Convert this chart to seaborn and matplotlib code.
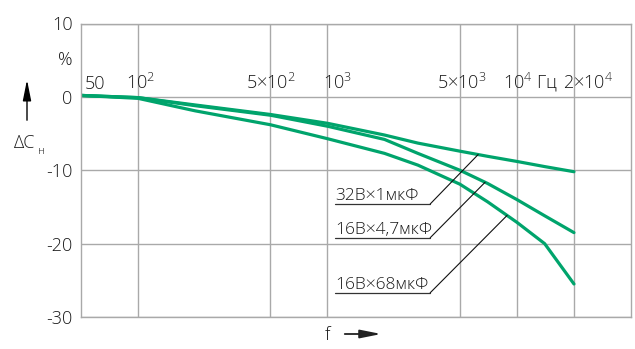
import numpy as np
import pandas as pd
import matplotlib
matplotlib.use("Agg")
import matplotlib.pyplot as plt
import seaborn as sns

# Frequency points (Hz) and capacitance change (%) for each capacitor type
freq_hz = [50, 100, 200, 500, 1000, 2000, 3000, 5000, 7000, 10000, 14000, 20000]
dc_32v_1uf = [0.2, -0.1, -1.1, -2.4, -3.6, -5.2, -6.3, -7.4, -8.1, -8.8, -9.5, -10.2]
dc_16v_4u7 = [0.2, -0.1, -1.2, -2.5, -4.0, -5.8, -7.7, -10.0, -11.8, -14.0, -16.2, -18.5]
dc_16v_68uf = [0.2, -0.2, -1.9, -3.8, -5.7, -7.7, -9.3, -11.9, -14.3, -17.1, -20.0, -25.5]

series_names = ["32В×1мкФ", "16В×4,7мкФ", "16В×68мкФ"]
series_values = [dc_32v_1uf, dc_16v_4u7, dc_16v_68uf]
# frequency at which each callout line touches its curve
callout_freq = [6240, 6790, 8870]

grid_freq = [100, 500, 1000, 5000, 10000, 20000]
freq_labels = ["50", "10$^2$", "5×10$^2$", "10$^3$", "5×10$^3$", "10$^4$ Гц", "2×10$^4$"]
freq_label_pos = [50, 100, 500, 1000, 5000, 10000, 20000]
y_ticks = [10, 0, -10, -20, -30]
y_labels = ["10", "0", "-10", "-20", "-30"]

sns.set_style("white")
plt.rcParams["font.family"] = ["Open Sans", "DejaVu Sans"]
plt.rcParams["font.weight"] = "light"
plt.rcParams["mathtext.fontset"] = "custom"
plt.rcParams["mathtext.rm"] = "Open Sans:light"
plt.rcParams["mathtext.it"] = "Open Sans:light"
plt.rcParams["mathtext.default"] = "rm"

GREEN = "#00a46c"
GRID = "#a9a9a9"
TXT = "#1a1a1a"

df = pd.DataFrame({
    "f": np.tile(freq_hz, len(series_names)),
    "dc": np.concatenate(series_values),
    "series": np.repeat(series_names, len(freq_hz)),
})

fig = plt.figure(figsize=(6.35, 3.49), dpi=100)
ax = fig.add_axes([81 / 635, 1 - 317 / 349, 550 / 635, 293.5 / 349])

sns.lineplot(data=df, x="f", y="dc", hue="series", palette=[GREEN] * 3,
             estimator=None, sort=False, legend=False, lw=2.3, ax=ax)

ax.set_xscale("log")
ax.set_xlim(50, 40000)
ax.set_ylim(-30, 10)
ax.set_xticks(grid_freq)
ax.xaxis.set_minor_locator(matplotlib.ticker.NullLocator())
ax.set_xticklabels([])
ax.set_yticks(y_ticks)
ax.set_yticklabels(y_labels, fontsize=13, color=TXT)
ax.tick_params(length=0, pad=6)
ax.grid(True, color=GRID, lw=1.0)
ax.set_xlabel("")
ax.set_ylabel("")
for sp in ax.spines.values():
    sp.set_color(GRID)
    sp.set_linewidth(1.0)

# frequency labels sitting above the zero line
label_style = [("left", 3), ("center", 2), ("center", 0), ("left", -3),
               ("center", 1), ("left", -10), ("center", 10)]
for txt, f, (ha, dx) in zip(freq_labels, freq_label_pos, label_style):
    ax.annotate(txt, xy=(f, 0), xytext=(dx, 6), textcoords="offset points",
                ha=ha, va="baseline", fontsize=13, color=TXT)

ax.annotate("%", xy=(0, 5), xycoords=("axes fraction", "data"),
            xytext=(-6, 0), textcoords="offset points",
            ha="right", va="center", fontsize=13, color=TXT)

# callouts with underline and leader line to each curve
label_left = 1097
label_corner = 3484
label_y = [-14.6, -19.2, -26.7]
for name, vals, fc, ly in zip(series_names, series_values, callout_freq, label_y):
    vc = np.interp(np.log10(fc), np.log10(freq_hz), vals)
    ax.plot([label_left, label_corner], [ly, ly], color="#333333", lw=0.9)
    ax.plot([label_corner, fc], [ly, vc], color="#111111", lw=0.8)
    ax.annotate(name, xy=(label_left, ly), xytext=(0, 3), textcoords="offset points",
                ha="left", va="baseline", fontsize=12.5, color=TXT)

# axis captions with arrows
fig.text(25 / 635, 1 - 143 / 349, "ΔC", ha="center", va="center", fontsize=13, color=TXT)
fig.text(41.5 / 635, 1 - 151 / 349, "н", ha="center", va="center", fontsize=8, color=TXT)
ax.annotate("", xy=(27, 349 - 77), xytext=(27, 349 - 123), xycoords="figure pixels",
            textcoords="figure pixels",
            arrowprops=dict(arrowstyle="-|>,head_length=0.9,head_width=0.18",
                            color="black", lw=1.0, mutation_scale=14))

fig.text(327 / 635, 1 - 335 / 349, "f", ha="center", va="center", fontsize=13, color=TXT)
ax.annotate("", xy=(384, 349 - 334), xytext=(342, 349 - 334), xycoords="figure pixels",
            textcoords="figure pixels",
            arrowprops=dict(arrowstyle="-|>,head_length=0.9,head_width=0.18",
                            color="#222222", lw=1.3, mutation_scale=14))

fig.savefig("out.png", dpi=100)
